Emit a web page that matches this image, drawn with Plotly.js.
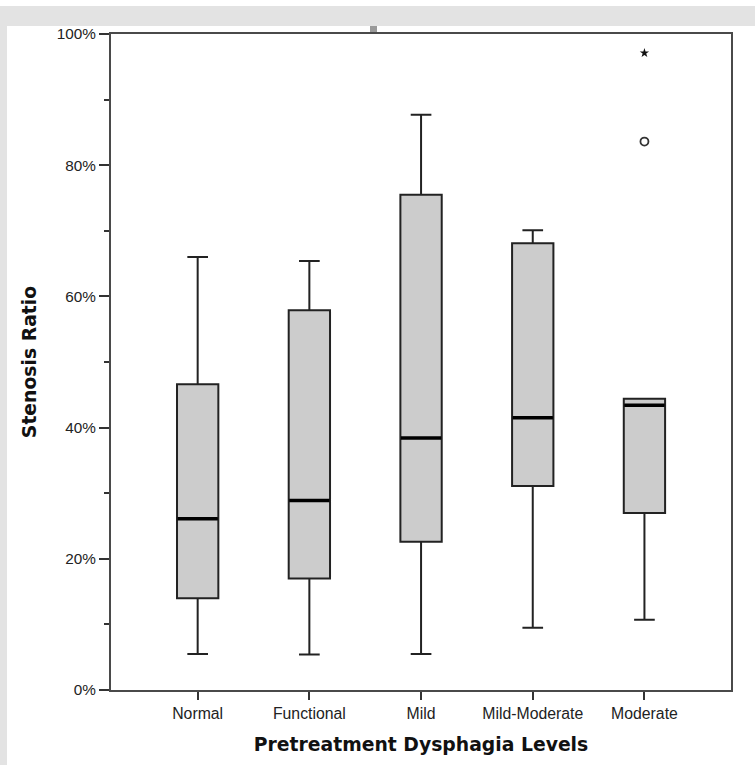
<!DOCTYPE html>
<html>
<head>
<meta charset="utf-8">
<script src="https://cdn.plot.ly/plotly-3.0.1.min.js"></script>
<style>
  html, body { margin: 0; padding: 0; background: #ffffff; }
  #bandTop { position: absolute; left: 0; top: 6px; width: 755px; height: 20px; background: #e3e3e3; }
  #bandLeft { position: absolute; left: 0; top: 6px; width: 7px; height: 759px; background: #e3e3e3; }
  #nub { position: absolute; left: 370px; top: 26px; width: 7px; height: 7px; background: #9a9a9a; }
  #chart { position: absolute; left: 0; top: 0; width: 755px; height: 765px; }
</style>
</head>
<body>
<div id="bandTop"></div>
<div id="bandLeft"></div>
<div id="nub"></div>
<div id="chart"></div>
<script>
// Data (percent)
var categories = ["Normal", "Functional", "Mild", "Mild-Moderate", "Moderate"];
var lowerWhisker = [5.5, 5.4, 5.5, 9.5, 10.7];
var q1Values     = [14.0, 17.0, 22.6, 31.1, 27.0];
var medianValues = [26.1, 28.9, 38.4, 41.5, 43.4];
var q3Values     = [46.6, 57.9, 75.5, 68.1, 44.4];
var upperWhisker = [66.0, 65.4, 87.7, 70.1, 44.4];

var outlierCategory = ["Moderate"];
var outlierValues   = [83.6];
var extremeCategory = ["Moderate"];
var extremeValues   = [97.1];

var tickValues = [0, 20, 40, 60, 80, 100];
var tickLabels = ["0%", "20%", "40%", "60%", "80%", "100%"];

var boxWidth = 0.37;

var traces = [
  {
    type: "box",
    x: categories,
    q1: q1Values,
    median: medianValues,
    q3: q3Values,
    lowerfence: lowerWhisker,
    upperfence: upperWhisker,
    boxpoints: false,
    width: boxWidth,
    whiskerwidth: 0.5,
    fillcolor: "#cccccc",
    line: { color: "#222222", width: 2 },
    hoverinfo: "skip"
  },
  {
    type: "box",
    x: categories,
    q1: medianValues,
    median: medianValues,
    q3: medianValues,
    lowerfence: medianValues,
    upperfence: medianValues,
    boxpoints: false,
    width: boxWidth - 0.01,
    whiskerwidth: 0,
    fillcolor: "rgba(0,0,0,0)",
    line: { color: "#000000", width: 3.5 },
    hoverinfo: "skip"
  },
  {
    type: "scatter",
    mode: "markers",
    x: outlierCategory,
    y: outlierValues,
    marker: { symbol: "circle-open", size: 8, color: "#333333", line: { width: 1.8, color: "#333333" } },
    hoverinfo: "skip"
  },
  {
    type: "scatter",
    mode: "markers",
    x: extremeCategory,
    y: extremeValues,
    marker: { symbol: "star", size: 7, color: "#111111", line: { width: 0 } },
    hoverinfo: "skip"
  }
];

var layout = {
  width: 755,
  height: 765,
  margin: { l: 111, r: 24, t: 34, b: 75, pad: 0 },
  paper_bgcolor: "rgba(0,0,0,0)",
  plot_bgcolor: "#ffffff",
  showlegend: false,
  boxmode: "overlay",
  xaxis: {
    type: "category",
    categoryarray: categories,
    range: [-0.776, 4.775],
    showgrid: false,
    zeroline: false,
    showline: true,
    mirror: true,
    linecolor: "#4a4a4a",
    linewidth: 2,
    ticks: "outside",
    ticklen: 8,
    tickwidth: 2,
    tickcolor: "#333333",
    tickfont: { family: "Liberation Sans, Arial, sans-serif", size: 15.8, color: "#222222" },
    title: {
      text: "Pretreatment Dysphagia Levels",
      font: { family: "DejaVu Sans, sans-serif", size: 18.8, color: "#111111", weight: "bold" },
      standoff: 17
    }
  },
  yaxis: {
    range: [0, 100],
    tickmode: "array",
    tickvals: tickValues,
    ticktext: tickLabels,
    showgrid: false,
    zeroline: false,
    showline: true,
    mirror: true,
    linecolor: "#4a4a4a",
    linewidth: 2,
    ticks: "outside",
    ticklen: 10,
    tickwidth: 2,
    tickcolor: "#333333",
    minor: { dtick: 10, ticks: "outside", ticklen: 5, tickwidth: 2, tickcolor: "#333333", showgrid: false },
    tickfont: { family: "Liberation Sans, Arial, sans-serif", size: 15.3, color: "#222222" },
    title: {
      text: "Stenosis Ratio",
      font: { family: "DejaVu Sans, sans-serif", size: 18.8, color: "#111111", weight: "bold" },
      standoff: 15
    }
  }
};

Plotly.newPlot("chart", traces, layout, { staticPlot: true, displayModeBar: false });
</script>
</body>
</html>
